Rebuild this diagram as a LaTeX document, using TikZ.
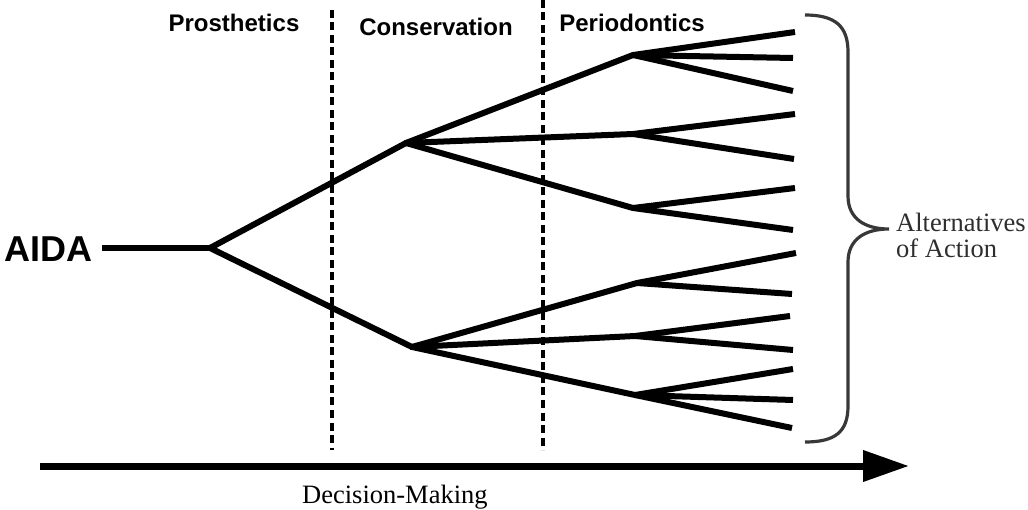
\documentclass[tikz,border=0pt]{standalone}
\usepackage{fontspec}
\setmainfont{Liberation Serif}
\setsansfont{Liberation Sans}
\usetikzlibrary{arrows.meta}
\begin{document}
\begin{tikzpicture}[x=1pt, y=-1pt,
  branch/.style={line width=6pt, line cap=round},
  divider/.style={line width=3.2pt, dash pattern=on 8pt off 4.5pt},
  bracepath/.style={draw=black!78, line width=3.2pt},
  header/.style={font=\sffamily\bfseries\fontsize{24}{28}\selectfont, inner sep=0pt, anchor=base},
  serifnote/.style={font=\fontsize{26.5}{30}\selectfont, inner sep=0pt, anchor=base west},
  timeline/.style={line width=7pt, -{Triangle[length=46pt, width=30pt]}}]
  \useasboundingbox (0,0) rectangle (1028,510);

  % column titles
  \node[header] (pros) at (234,32) {Prosthetics};
  \node[header] (cons) at (436,36) {Conservation};
  \node[header] (perio) at (632,32) {Periodontics};

  % column dividers
  \coordinate (d1t) at (332,10);  \coordinate (d1b) at (332,450);
  \coordinate (d2t) at (543,0);   \coordinate (d2b) at (543,450);
  \draw[divider] (d1t) -- (d1b);
  \draw[divider] (d2t) -- (d2b);

  % start label
  \node[font=\sffamily\bfseries\fontsize{36}{40}\selectfont, inner sep=0pt, anchor=base west] (aida) at (4,262) {AIDA};

  % tree nodes
  \coordinate (a0) at (102,248);
  \coordinate (R) at (210,248);
  \coordinate (U) at (406,143);
  \coordinate (L) at (412,347);
  \coordinate (N1) at (633,55);
  \coordinate (N2) at (633,134);
  \coordinate (N3) at (633,208);
  \coordinate (N4) at (637,283);
  \coordinate (N5) at (635,336);
  \coordinate (N6) at (635,395);
  % leaves
  \coordinate (l1) at (795,32);
  \coordinate (l2) at (793,58);
  \coordinate (l3) at (793,91);
  \coordinate (l4) at (795,114);
  \coordinate (l5) at (794,159);
  \coordinate (l6) at (795,188);
  \coordinate (l7) at (793,230);
  \coordinate (l8) at (796,253);
  \coordinate (l9) at (792,294);
  \coordinate (l10) at (790,316);
  \coordinate (l11) at (793,350);
  \coordinate (l12) at (793,369);
  \coordinate (l13) at (793,400);
  \coordinate (l14) at (792,428);

  % branches
  \draw[line width=6pt] (a0) -- (R);
  \draw[line width=6pt] (U) -- (R) -- (L);
  \draw[branch] (U) -- (N1);
  \draw[branch] (U) -- (N2);
  \draw[branch] (U) -- (N3);
  \draw[branch] (L) -- (N4);
  \draw[branch] (L) -- (N5);
  \draw[branch] (L) -- (N6);
  \foreach \p/\c in {N1/l1, N1/l2, N1/l3, N2/l4, N2/l5, N3/l6, N3/l7,
                     N4/l8, N4/l9, N5/l10, N5/l11, N6/l12, N6/l13, N6/l14}
    \draw[line width=6pt] (\p) -- (\c);

  % brace over the outcomes
  \coordinate (bt) at (805,15);
  \coordinate (tip) at (889,229);
  \coordinate (bb) at (805,442);
  \draw[bracepath] (bt) .. controls (835,15) and (848,26) .. (848,52)
    -- (848,196) .. controls (848,218) and (864,229) .. (tip)
    .. controls (864,229) and (848,240) .. (848,262)
    -- (848,406) .. controls (848,432) and (835,442) .. (bb);

  \node[serifnote, text=black!82] (alt1) at (896,232) {Alternatives};
  \node[serifnote, text=black!82] (alt2) at (896,258) {of Action};

  % time axis
  \coordinate (ax0) at (40,466);
  \coordinate (ax1) at (909,466);
  \draw[timeline] (ax0) -- (ax1);
  \node[serifnote] (dm) at (302,503) {Decision-Making};
\end{tikzpicture}
\end{document}
